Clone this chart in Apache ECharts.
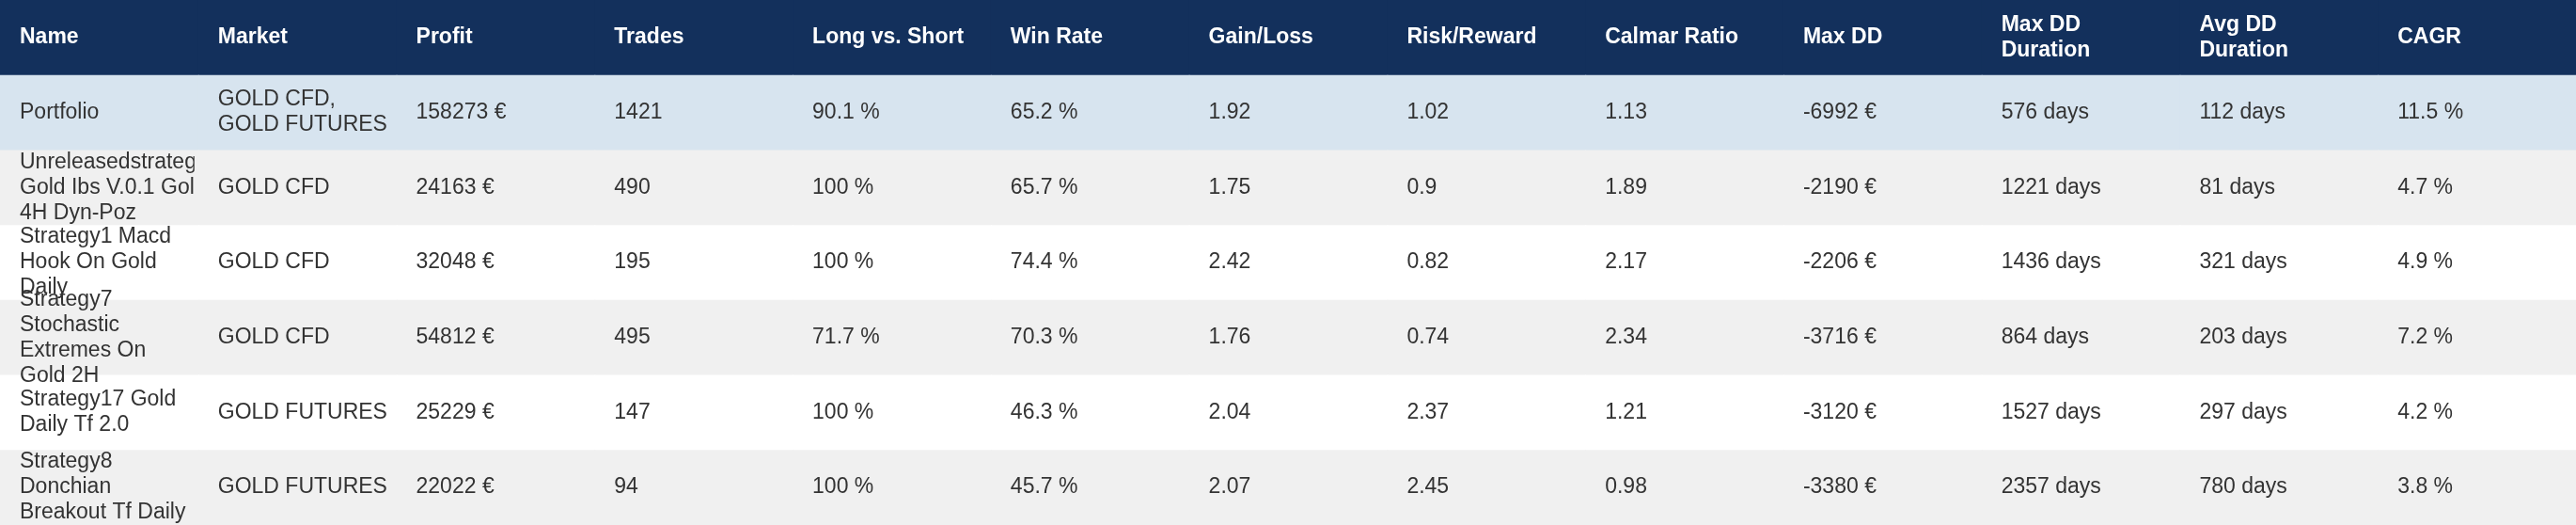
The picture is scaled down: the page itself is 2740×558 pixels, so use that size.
<!DOCTYPE html>
<html><head><meta charset="utf-8">
<script src="https://cdn.jsdelivr.net/npm/echarts@6/dist/echarts.min.js"></script>
<style>html,body{margin:0;padding:0;background:#fff}#c{width:2740px;height:558px}</style>
</head><body><div id="c"></div>
<script>
const headers = ["Name","Market","Profit","Trades","Long vs. Short","Win Rate","Gain/Loss","Risk/Reward","Calmar Ratio","Max DD","Max DD\nDuration","Avg DD\nDuration","CAGR"];
const names = ["Portfolio","Unreleasedstrategy\nGold Ibs V.0.1 Gold\n4H Dyn-Poz","Strategy1 Macd\nHook On Gold\nDaily","Strategy7\nStochastic\nExtremes On\nGold 2H","Strategy17 Gold\nDaily Tf 2.0","Strategy8\nDonchian\nBreakout Tf Daily"];
const markets = ["GOLD CFD,\nGOLD FUTURES","GOLD CFD","GOLD CFD","GOLD CFD","GOLD FUTURES","GOLD FUTURES"];
const profit = [158273,24163,32048,54812,25229,22022];
const trades = [1421,490,195,495,147,94];
const longShort = [90.1,100,100,71.7,100,100];
const winRate = [65.2,65.7,74.4,70.3,46.3,45.7];
const gainLoss = [1.92,1.75,2.42,1.76,2.04,2.07];
const riskReward = [1.02,0.9,0.82,0.74,2.37,2.45];
const calmar = [1.13,1.89,2.17,2.34,1.21,0.98];
const maxDD = [-6992,-2190,-2206,-3716,-3120,-3380];
const maxDDDur = [576,1221,1436,864,1527,2357];
const avgDDDur = [112,81,321,203,297,780];
const cagr = [11.5,4.7,4.9,7.2,4.2,3.8];

const rowsText = names.map((n,i)=>[n,markets[i],profit[i]+' €',String(trades[i]),longShort[i]+' %',winRate[i]+' %',String(gainLoss[i]),String(riskReward[i]),String(calmar[i]),maxDD[i]+' €',maxDDDur[i]+' days',avgDDDur[i]+' days',cagr[i]+' %']);
const cols = headers.map((_,i)=>i);
const rows = [0,1,2,3,4,5,6];
const cells = [];
headers.forEach((h,c)=>cells.push([c,0,h]));
rowsText.forEach((r,ri)=>r.forEach((t,c)=>cells.push([c,ri+1,t])));
const bgColor = r => r===0?'#13305c':(r===1?'#d7e4ef':(r%2===0?'#f0f0f0':'#ffffff'));
const FONT = '"Liberation Sans", Arial, sans-serif';

const chart = echarts.init(document.getElementById('c'));
chart.setOption({
  animation:false,
  grid:{left:0,right:0,top:0,bottom:0},
  xAxis:{type:'category',data:cols,show:false},
  yAxis:{type:'category',data:rows,inverse:true,show:false},
  series:[
    {type:'custom',data:cells,encode:{x:0,y:1},z:1,
     renderItem(params,api){
       const c=api.coord([api.value(0),api.value(1)]), s=api.size([1,1]);
       return {type:'rect',shape:{x:c[0]-s[0]/2,y:c[1]-s[1]/2,width:s[0]+1,height:s[1]+1},style:{fill:bgColor(api.value(1))}};
     }},
    {type:'custom',data:cells,encode:{x:0,y:1},z:2,
     renderItem(params,api){
       const d=cells[params.dataIndex];
       const c=api.coord([d[0],d[1]]), s=api.size([1,1]);
       const x0=c[0]-s[0]/2;
       const hdr=d[1]===0;
       return {type:'group',
         clipPath:{type:'rect',shape:{x:x0,y:c[1]-200,width:s[0]-4,height:400}},
         children:[{type:'text',x:x0+21,y:c[1],style:{text:d[2],fill:hdr?'#ffffff':'#333333',
           font:(hdr?'bold ':'')+'23px '+FONT,lineHeight:27,align:'left',verticalAlign:'middle'}}]};
     }}
  ]
});
</script></body></html>
